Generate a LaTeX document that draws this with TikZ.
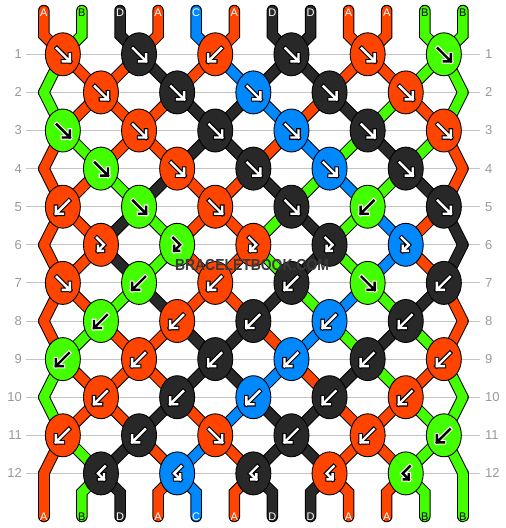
\documentclass[tikz,border=0pt]{standalone}
\usepackage{fontspec}
\setmainfont{Liberation Sans}
\usetikzlibrary{shapes.geometric}
\pgfdeclarelayer{gridlayer}
\pgfdeclarelayer{strandlayer}
\pgfsetlayers{gridlayer,strandlayer,main}
\definecolor{cA}{HTML}{FF4400}
\definecolor{cB}{HTML}{44FF00}
\definecolor{cC}{HTML}{0088FF}
\definecolor{cD}{HTML}{282828}
\definecolor{gridc}{HTML}{C4C4C4}
\definecolor{numc}{HTML}{999999}
\definecolor{wmark}{HTML}{3A3A3A}
\def\xo{43.8}\def\yo{54.3}\def\uu{38.1}
\def\gpathF{(-6,-6) -- (7,7) (0,7) -- (7,7) -- (7,0)}
\def\gpathB{(6,-6) -- (-7,7) (0,7) -- (-7,7) -- (-7,0)}
\def\gpathFB{(-4,-7) -- (3,0) -- (-3,6) (2,6) -- (-3,6) -- (-3,1)}
\def\gpathBF{(4,-7) -- (-3,0) -- (3,6) (-2,6) -- (3,6) -- (3,1)}
\def\knotlist{1/{A/F,D/F,A/B,D/F,A/F,B/F},2/{A/F,D/F,C/F,D/F,A/F},3/{B/F,A/F,D/F,C/F,D/F,A/F},4/{B/F,A/F,D/F,C/F,D/F},5/{A/B,B/F,A/F,D/F,B/B,D/F},6/{A/FB,B/FB,A/FB,D/FB,C/FB},7/{A/F,B/B,A/B,D/B,B/F,D/B},8/{B/B,A/B,D/B,C/B,D/B},9/{B/B,A/B,D/B,C/B,D/B,A/B},10/{A/B,D/B,C/B,D/B,A/B},11/{A/B,D/B,A/F,D/B,A/B,B/B},12/{D/BF,C/BF,D/BF,A/BF,B/BF}}
\def\statelist{0/{A,B,D,A,C,A,D,D,A,A,B,B},1/{B,A,A,D,A,C,D,D,A,A,B,B},2/{B,A,A,A,D,D,C,A,D,B,A,B},3/{A,B,A,A,D,D,A,C,B,D,B,A},4/{A,A,B,D,A,A,D,B,C,B,D,A},5/{A,A,D,B,A,A,B,D,B,C,A,D},6/{A,A,D,B,A,A,B,D,B,C,A,D},7/{A,A,B,D,A,A,D,B,C,B,D,A},8/{A,B,A,A,D,D,A,C,B,D,B,A},9/{B,A,A,A,D,D,C,A,D,B,A,B},10/{B,A,A,D,A,C,D,D,A,A,B,B},11/{A,B,D,A,C,A,D,D,A,A,B,B},12/{A,B,D,A,C,A,D,D,A,A,B,B}}
\begin{document}
\begin{tikzpicture}[x=1pt,y=-1pt,
  knot/.style={ellipse, draw=black, line width=0.9pt, minimum width=35pt, minimum height=43pt, inner sep=0pt},
  rownum/.style={text=numc, font=\fontsize{13}{13}\selectfont, inner sep=0pt},
  strlabel/.style={font=\fontsize{11}{11}\selectfont, inner sep=0pt},
  strand/.style={line cap=round, line join=miter},
  wm/.style={font=\fontsize{16}{16}\selectfont\bfseries, inner sep=0pt},
]
\useasboundingbox (0,0) rectangle (506,528);

% grid lines and row numbers
\begin{pgfonlayer}{gridlayer}
\foreach \row in {1,...,12}{
  \pgfmathsetmacro\ky{\yo+\uu*(\row-1)}
  \coordinate (gl-\row) at (26,\ky);
  \coordinate (gr-\row) at (480,\ky);
  \draw[gridc, line width=1pt] (gl-\row) -- (gr-\row);
}
\end{pgfonlayer}
\foreach \row in {1,...,12}{
  \pgfmathsetmacro\ky{\yo+\uu*(\row-1)}
  \node[rownum, anchor=east] (nl-\row) at (22,\ky) {\row};
  \node[rownum, anchor=west] (nr-\row) at (485,\ky) {\row};
}

% string end points
\foreach \pos in {0,...,11}{
  \pgfmathsetmacro\sx{\xo+\uu*\pos}
  \coordinate (t-\pos) at (\sx,10.5);
  \coordinate (tb-\pos) at (\sx,{\yo-\uu/2});
  \coordinate (bb-\pos) at (\sx,{\yo+11.5*\uu});
  \coordinate (b-\pos) at (\sx,516.5);
}

% knots
\foreach \row/\lst in \knotlist {
  \pgfmathsetmacro\ky{\yo+\uu*(\row-1)}
  \pgfmathtruncatemacro\odd{mod(\row,2)}
  \ifnum\odd=0
    \coordinate (p-\row-0) at (\xo,\ky);
    \coordinate (p-\row-11) at ({\xo+11*\uu},\ky);
  \fi
  \foreach \col/\typ [count=\kj from 0] in \lst {
    \pgfmathsetmacro\kx{\xo+\uu*(2*\kj+1.5-\odd)}
    \pgfmathtruncatemacro\ia{2*\kj+1-\odd}
    \pgfmathtruncatemacro\ib{2*\kj+2-\odd}
    \node[knot, fill=c\col] (k-\row-\kj) at (\kx,\ky) {};
    \coordinate (p-\row-\ia) at (k-\row-\kj.center);
    \coordinate (p-\row-\ib) at (k-\row-\kj.center);
    \expandafter\let\expandafter\gp\csname gpath\typ\endcsname
    \if B\col \def\gin{black}\def\gout{white}\else\def\gin{white}\def\gout{black}\fi
    \draw[shift={(\kx,\ky)}, draw=\gout, line width=4.6pt, line join=miter, line cap=rect] \gp;
    \draw[shift={(\kx,\ky)}, draw=\gin, line width=2.4pt, line join=miter, line cap=rect] \gp;
  }
}

% strands
\begin{pgfonlayer}{strandlayer}
\foreach \pass in {1,2}{
 \foreach \row/\lst in \statelist {
  \pgfmathtruncatemacro\nrow{\row+1}
  \foreach \col [count=\pos from 0] in \lst {
    \ifnum\pass=1 \def\scol{black}\def\sw{11.5}\else\def\scol{c\col}\def\sw{9.5}\fi
    \ifnum\row=0
      \draw[strand, draw=\scol, line width=\sw pt] (t-\pos) -- (tb-\pos) -- (p-1-\pos);
    \else\ifnum\row=12
      \draw[strand, draw=\scol, line width=\sw pt] (p-12-\pos) -- (bb-\pos) -- (b-\pos);
    \else
      \draw[strand, draw=\scol, line width=\sw pt] (p-\row-\pos) -- (p-\nrow-\pos);
    \fi\fi
  }
 }
}
\end{pgfonlayer}

% string letters
\foreach \col [count=\pos from 0] in {A,B,D,A,C,A,D,D,A,A,B,B} {
  \pgfmathsetmacro\sx{\xo+\uu*\pos}
  \if B\col \def\lc{black}\else\def\lc{white}\fi
  \node[strlabel, text=\lc] (lt-\pos) at (\sx,12.5) {\col};
  \node[strlabel, text=\lc] (lb-\pos) at (\sx,516.5) {\col};
}

% watermark
\node[wm, text=wmark] (wm) at (252,265) {\scalebox{0.87}[1]{BRACELETBOOK.COM}};
\end{tikzpicture}
\end{document}
